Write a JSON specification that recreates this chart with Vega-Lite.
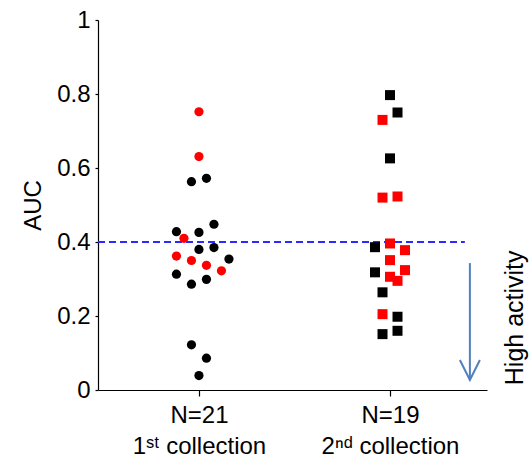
{
  "$schema": "https://vega.github.io/schema/vega-lite/v6.json",
  "width": 389,
  "height": 370,
  "autosize": {"type": "none"},
  "padding": {"left": 98, "top": 20, "right": 45, "bottom": 71},
  "config": {
    "view": {"stroke": null},
    "font": "Liberation Sans",
    "axis": {
      "domainColor": "#000000",
      "tickColor": "#000000",
      "labelColor": "#000000",
      "titleColor": "#000000",
      "grid": false,
      "labelFont": "Liberation Sans",
      "titleFont": "Liberation Sans",
      "labelFontSize": 24,
      "titleFontSize": 24,
      "titleFontWeight": "normal",
      "domainWidth": 1.2,
      "tickWidth": 1.2
    }
  },
  "datasets": {
    "points": [
      {"collection": "1st", "slot": 0, "auc": 0.752, "class": "B"},
      {"collection": "1st", "slot": 0, "auc": 0.631, "class": "B"},
      {"collection": "1st", "slot": -1, "auc": 0.563, "class": "A"},
      {"collection": "1st", "slot": 1, "auc": 0.572, "class": "A"},
      {"collection": "1st", "slot": -3, "auc": 0.428, "class": "A"},
      {"collection": "1st", "slot": -2, "auc": 0.410, "class": "B"},
      {"collection": "1st", "slot": 0, "auc": 0.426, "class": "A"},
      {"collection": "1st", "slot": 2, "auc": 0.448, "class": "A"},
      {"collection": "1st", "slot": 0, "auc": 0.380, "class": "A"},
      {"collection": "1st", "slot": 2, "auc": 0.385, "class": "A"},
      {"collection": "1st", "slot": -3, "auc": 0.362, "class": "B"},
      {"collection": "1st", "slot": -1, "auc": 0.350, "class": "B"},
      {"collection": "1st", "slot": 1, "auc": 0.337, "class": "B"},
      {"collection": "1st", "slot": 4, "auc": 0.354, "class": "A"},
      {"collection": "1st", "slot": 3, "auc": 0.322, "class": "B"},
      {"collection": "1st", "slot": -3, "auc": 0.313, "class": "A"},
      {"collection": "1st", "slot": -1, "auc": 0.286, "class": "A"},
      {"collection": "1st", "slot": 1, "auc": 0.299, "class": "A"},
      {"collection": "1st", "slot": -1, "auc": 0.122, "class": "A"},
      {"collection": "1st", "slot": 1, "auc": 0.086, "class": "A"},
      {"collection": "1st", "slot": 0, "auc": 0.039, "class": "A"},
      {"collection": "2nd", "slot": 0, "auc": 0.797, "class": "A"},
      {"collection": "2nd", "slot": 1, "auc": 0.750, "class": "A"},
      {"collection": "2nd", "slot": -1, "auc": 0.730, "class": "B"},
      {"collection": "2nd", "slot": 0, "auc": 0.626, "class": "A"},
      {"collection": "2nd", "slot": -1, "auc": 0.520, "class": "B"},
      {"collection": "2nd", "slot": 1, "auc": 0.523, "class": "B"},
      {"collection": "2nd", "slot": 0, "auc": 0.396, "class": "B"},
      {"collection": "2nd", "slot": -2, "auc": 0.386, "class": "A"},
      {"collection": "2nd", "slot": 2, "auc": 0.378, "class": "B"},
      {"collection": "2nd", "slot": 0, "auc": 0.351, "class": "B"},
      {"collection": "2nd", "slot": -2, "auc": 0.318, "class": "A"},
      {"collection": "2nd", "slot": 2, "auc": 0.324, "class": "B"},
      {"collection": "2nd", "slot": 0, "auc": 0.306, "class": "B"},
      {"collection": "2nd", "slot": 1, "auc": 0.295, "class": "B"},
      {"collection": "2nd", "slot": -1, "auc": 0.264, "class": "A"},
      {"collection": "2nd", "slot": -1, "auc": 0.205, "class": "B"},
      {"collection": "2nd", "slot": 1, "auc": 0.198, "class": "A"},
      {"collection": "2nd", "slot": -1, "auc": 0.151, "class": "A"},
      {"collection": "2nd", "slot": 1, "auc": 0.160, "class": "A"}
    ]
  },
  "encoding": {
    "y": {
      "field": "auc",
      "type": "quantitative",
      "scale": {"domain": [0, 1], "nice": false},
      "axis": {
        "title": "AUC",
        "values": [0, 0.2, 0.4, 0.6, 0.8, 1],
        "format": "~g",
        "tickSize": 3,
        "labelPadding": 5,
        "titlePadding": 11
      }
    }
  },
  "layer": [
    {
      "data": {"values": [{"auc": 0.4, "start": 0, "end": 0.943}]},
      "mark": {"type": "rule", "color": "#2b2bff", "strokeWidth": 1.8, "strokeDash": [7, 4]},
      "encoding": {
        "x": {"field": "start", "type": "quantitative", "scale": {"domain": [0, 1]}, "axis": null},
        "x2": {"field": "end"}
      }
    },
    {
      "data": {"name": "points"},
      "mark": {"type": "point", "filled": true, "opacity": 1},
      "encoding": {
        "x": {
          "field": "collection",
          "type": "nominal",
          "scale": {"type": "point", "padding": 0.518, "align": 0.51},
          "axis": {
            "title": null,
            "labelAngle": 0,
            "tickSize": 6,
            "labelPadding": 7,
            "labelLineHeight": 31,
            "labelExpr": "datum.value == '1st' ? ['N=21', '1ˢᵗ collection'] : ['N=19', '2ⁿᵈ collection']"
          }
        },
        "xOffset": {"field": "slot", "type": "quantitative", "scale": {"domain": [-4, 4], "range": [-30, 30]}},
        "color": {"field": "class", "type": "nominal", "scale": {"domain": ["A", "B"], "range": ["#000000", "#ff0000"]}, "legend": null},
        "shape": {"field": "collection", "type": "nominal", "scale": {"domain": ["1st", "2nd"], "range": ["circle", "square"]}, "legend": null},
        "size": {"field": "collection", "type": "nominal", "scale": {"domain": ["1st", "2nd"], "range": [85, 100]}, "legend": null}
      }
    },
    {
      "data": {"values": [{"pos": 0.956, "auc": 0.343, "tip": 0.027}]},
      "mark": {"type": "rule", "color": "#4f81bd", "strokeWidth": 2},
      "encoding": {
        "x": {"field": "pos", "type": "quantitative", "scale": {"domain": [0, 1]}, "axis": null},
        "y2": {"field": "tip"}
      }
    },
    {
      "data": {"values": [{"pos": 0.956, "auc": 0.027}]},
      "mark": {"type": "point", "shape": "M-1,-2L0,0L1,-2", "size": 400, "filled": false, "color": "#4f81bd", "strokeWidth": 2, "opacity": 1},
      "encoding": {
        "x": {"field": "pos", "type": "quantitative", "scale": {"domain": [0, 1]}, "axis": null}
      }
    },
    {
      "data": {"values": [{"pos": 1.072, "auc": 0.195, "label": "High activity"}]},
      "mark": {"type": "text", "angle": 270, "fontSize": 25, "font": "Liberation Sans", "color": "#000000", "align": "center", "baseline": "middle"},
      "encoding": {
        "x": {"field": "pos", "type": "quantitative", "scale": {"domain": [0, 1]}, "axis": null},
        "text": {"field": "label"}
      }
    }
  ],
  "resolve": {"scale": {"x": "independent"}, "axis": {"x": "independent"}}
}
